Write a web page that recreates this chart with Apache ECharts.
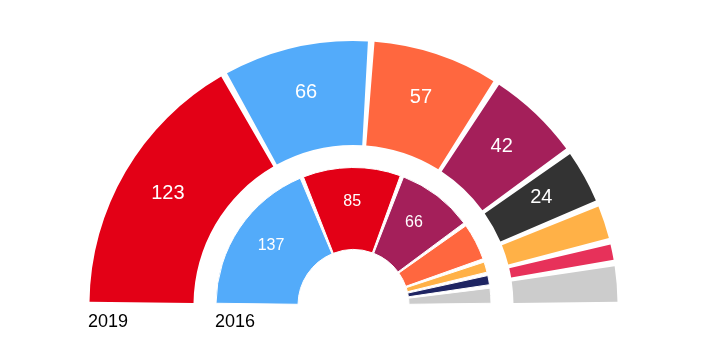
<!DOCTYPE html>
<html>
<head>
<meta charset="utf-8">
<title>Congreso 2019 / 2016</title>
<script src="https://cdn.jsdelivr.net/npm/echarts@6/dist/echarts.min.js"></script>
<style>
  html, body { margin: 0; padding: 0; background: #ffffff; }
  #chart { width: 709px; height: 346px; }
</style>
</head>
<body>
<div id="chart"></div>
<script>
// Seats per party, left to right across each half ring
const parties2019 = ['PSOE', 'PP', 'Cs', 'Unidas Podemos', 'Vox', 'ERC', 'JxCat', 'Otros'];
const seats2019 = [123, 66, 57, 42, 24, 15, 7, 16];
const colors2019 = ['#e30016', '#53abfa', '#ff673f', '#a41f5a', '#333333', '#ffb147', '#e7315a', '#cccccc'];

const parties2016 = ['PP', 'PSOE', 'Unidos Podemos', 'Cs', 'ERC', 'CDC', 'Otros'];
const seats2016 = [137, 85, 66, 32, 9, 8, 13];
const colors2016 = ['#53abfa', '#e30016', '#a41f5a', '#ff673f', '#ffb147', '#1e2462', '#cccccc'];

const yearLabels = ['2019', '2016'];

// Only the larger slices carry a value label
const labelMin2019 = 20;
const labelMin2016 = 40;

// Angular padding between slices, expressed in seat units (each slice gets
// the same extra angle, split half on either side)
const PAD_SEATS = 3;

const FONT = '"Liberation Sans", Arial, Helvetica, sans-serif';
const CX = 353.5, CY = 305;

function ringData(names, values, colors, minLabel) {
  const pad = (v) => ({
    name: '',
    value: v,
    itemStyle: { color: 'rgba(0,0,0,0)', borderWidth: 0 },
    label: { show: false }
  });
  const out = [];
  names.forEach((n, i) => {
    out.push(pad(PAD_SEATS / 2));
    out.push({
      name: n,
      value: values[i],
      itemStyle: { color: colors[i] },
      label: { show: values[i] >= minLabel }
    });
    out.push(pad(PAD_SEATS / 2));
  });
  return out;
}

// Value on the first line, a small empty strut below it, so the digits sit
// slightly above the slice centroid
function valueLabel(fontSize, strut) {
  return {
    position: 'inside',
    formatter: (p) => `{v|${p.value}}\n{s| }`,
    rich: {
      v: { color: '#ffffff', fontSize: fontSize, lineHeight: fontSize, fontFamily: FONT },
      s: { fontSize: 1, lineHeight: strut }
    }
  };
}

const chart = echarts.init(document.getElementById('chart'), null, { renderer: 'canvas' });

chart.setOption({
  animation: false,
  backgroundColor: '#ffffff',
  graphic: [
    { type: 'text', left: 88, top: 313, style: { text: yearLabels[0], fontSize: 18, fontFamily: FONT, fill: '#000000' } },
    { type: 'text', left: 215, top: 313, style: { text: yearLabels[1], fontSize: 18, fontFamily: FONT, fill: '#000000' } }
  ],
  series: [
    {
      name: yearLabels[0],
      type: 'pie',
      center: [CX, CY],
      radius: [160, 264],
      startAngle: 180,
      endAngle: 0,
      clockwise: true,
      avoidLabelOverlap: false,
      silent: true,
      itemStyle: { borderWidth: 0 },
      label: valueLabel(20, 6),
      labelLine: { show: false },
      emphasis: { disabled: true },
      data: ringData(parties2019, seats2019, colors2019, labelMin2019)
    },
    {
      name: yearLabels[1],
      type: 'pie',
      center: [CX, CY],
      radius: [55.5, 137.5],
      startAngle: 180,
      endAngle: 0,
      clockwise: true,
      avoidLabelOverlap: false,
      silent: true,
      itemStyle: { borderColor: '#ffffff', borderWidth: 1 },
      label: valueLabel(16, 7),
      labelLine: { show: false },
      emphasis: { disabled: true },
      data: ringData(parties2016, seats2016, colors2016, labelMin2016)
    }
  ]
});
</script>
</body>
</html>
